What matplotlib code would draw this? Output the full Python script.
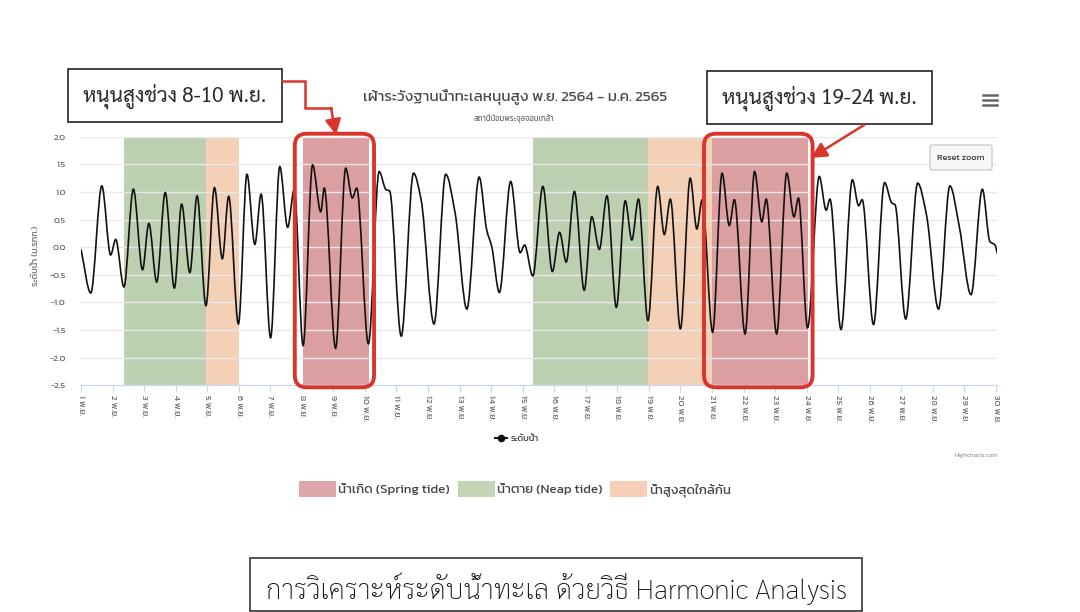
import numpy as np
import matplotlib
matplotlib.use("Agg")
import matplotlib.pyplot as plt
from matplotlib.path import Path
from matplotlib.patches import PathPatch, Rectangle, FancyBboxPatch, FancyArrowPatch, Patch
from matplotlib.lines import Line2D
from matplotlib.transforms import IdentityTransform

# ---- data (day of November, water level in m) ----
tide_day = [
    1.00, 1.31, 1.66, 1.94, 2.10, 2.36, 2.66, 2.95, 3.15, 3.40,
    3.67, 3.96, 4.19, 4.45, 4.68, 4.96, 5.23, 5.48, 5.68, 5.99,
    6.26, 6.51, 6.71, 7.01, 7.30, 7.55, 7.76, 8.04, 8.34, 8.60,
    8.71, 9.07, 9.39, 9.60, 9.74, 10.11, 10.45, 10.67, 10.78, 11.15,
    11.54, 11.78, 12.19, 12.56, 12.86, 13.23, 13.62, 13.86, 14.02, 14.26,
    14.62, 14.92, 15.06, 15.32, 15.64, 15.94, 16.17, 16.38, 16.64, 16.95,
    17.19, 17.43, 17.67, 17.97, 18.25, 18.46, 18.67, 18.97, 19.28, 19.49,
    19.68, 20.00, 20.31, 20.52, 20.69, 21.02, 21.32, 21.55, 21.71, 22.05,
    22.35, 22.58, 22.72, 23.05, 23.37, 23.60, 23.74, 24.03, 24.40, 24.62,
    24.74, 25.09, 25.45, 25.65, 25.76, 26.12, 26.47, 26.70, 26.80, 27.14,
    27.52, 27.80, 28.18, 28.54, 28.84, 29.21, 29.57, 29.81, 29.97, 30.05,
]
tide_level = [
    -0.04, -0.83, 1.11, -0.14, 0.14, -0.72, 1.05, -0.41, 0.43, -0.63,
    0.99, -0.74, 0.78, -0.46, 0.93, -1.06, 1.08, -0.21, 0.92, -1.39,
    1.32, 0.05, 0.96, -1.64, 1.46, 0.36, 1.05, -1.78, 1.49, 0.64,
    1.07, -1.83, 1.43, 0.89, 1.07, -1.75, 1.37, 1.04, 1.02, -1.61,
    1.34, 0.86, -1.39, 1.32, 0.61, -1.12, 1.27, 0.31, 0.01, -0.82,
    1.19, -0.10, 0.04, -0.52, 1.10, -0.44, 0.27, -0.27, 1.01, -0.78,
    0.55, -0.04, 0.93, -1.09, 0.84, 0.13, 0.87, -1.33, 1.10, 0.23,
    0.87, -1.48, 1.25, 0.33, 0.86, -1.54, 1.34, 0.39, 0.86, -1.57,
    1.37, 0.46, 0.87, -1.57, 1.34, 0.55, 0.89, -1.46, 1.28, 0.67,
    0.87, -1.49, 1.22, 0.75, 0.86, -1.40, 1.17, 0.80, 0.77, -1.30,
    1.16, 0.58, -1.12, 1.11, 0.37, -0.86, 1.05, 0.10, 0.04, -0.12,
]

band_start = [2.37, 4.97, 8.03, 15.34, 18.97, 21.00]
band_end = [4.97, 6.00, 10.13, 18.97, 21.00, 24.03]
band_kind = ["neap", "high", "spring", "neap", "high", "spring"]

day_ticks = list(range(1, 31))
day_labels = [f"{d} พ.ย." for d in day_ticks]
level_ticks = [-2.5, -2.0, -1.5, -1.0, -0.5, 0.0, 0.5, 1.0, 1.5, 2.0]

legend_labels = ["น้ำเกิด (Spring tide)", "น้ำตาย (Neap tide)", "น้ำสูงสุดใกล้กัน"]
title = "เฝ้าระวังฐานน้ำทะเลหนุนสูง พ.ย. 2564 - ม.ค. 2565"
subtitle = "สถานีป้อมพระจุลจอมเกล้า"

band_color = {"spring": "#dc9fa1", "neap": "#bdcfb1", "high": "#f4d0b6"}
legend_color = {"spring": "#dea6a8", "neap": "#c4d5b7", "high": "#f6cfb7"}
RED = "#d9352c"

THAI_UI = ["Kanit", "Prompt", "Anuphan", "Noto Sans Thai", "Loma", "DejaVu Sans"]
THAI_DOC = ["Sarabun", "Noto Sans Thai Looped", "Loma", "DejaVu Sans"]
plt.rcParams["font.family"] = THAI_UI
plt.rcParams["axes.unicode_minus"] = False

W, H = 1080, 612
fig = plt.figure(figsize=(W / 100, H / 100), dpi=100)
PX = IdentityTransform()


def P(x, y):
    # image pixel (y down) -> display pixel (y up)
    return (x, H - y)


ax_left, ax_right, ax_top, ax_bottom = 81, 997.5, 136.7, 385.3
ax = fig.add_axes([ax_left / W, 1 - ax_bottom / H,
                   (ax_right - ax_left) / W, (ax_bottom - ax_top) / H])
ax.set_xlim(1, 30.05)
ax.set_ylim(-2.5, 2.0)

# plot bands
for s, e, k in zip(band_start, band_end, band_kind):
    ax.axvspan(s, e, color=band_color[k], lw=0, zorder=0.5)

# smooth tide line: cubic Hermite (monotone tangents) as a bezier path
x = np.array(tide_day)
y = np.array(tide_level)
h = np.diff(x)
d = np.diff(y) / h
m = np.zeros_like(y)
for k in range(1, len(x) - 1):
    if d[k - 1] * d[k] > 0:
        w1 = 2 * h[k] + h[k - 1]
        w2 = h[k] + 2 * h[k - 1]
        m[k] = (w1 + w2) / (w1 / d[k - 1] + w2 / d[k])
m[0] = d[0]
m[-1] = d[-1]
verts = [(x[0], y[0])]
codes = [Path.MOVETO]
for k in range(len(x) - 1):
    verts += [(x[k] + h[k] / 3, y[k] + m[k] * h[k] / 3),
              (x[k + 1] - h[k] / 3, y[k + 1] - m[k + 1] * h[k] / 3),
              (x[k + 1], y[k + 1])]
    codes += [Path.CURVE4] * 3
ax.add_patch(PathPatch(Path(verts, codes), fill=False, edgecolor="#111111",
                       lw=1.2, zorder=3))

# axes styling (highcharts look)
ax.set_axisbelow(False)
ax.grid(axis="y", color="#e9e9e9", lw=1)
for sp in ["left", "right", "top"]:
    ax.spines[sp].set_visible(False)
ax.spines["bottom"].set_color("#ccd6eb")
ax.set_xticks(day_ticks)
ax.set_xticklabels(day_labels)
ax.set_yticks(level_ticks)
ax.set_yticklabels([f"{v:.1f}" for v in level_ticks])
ax.tick_params(axis="x", length=5, color="#ccd6eb", labelsize=6.5,
               labelcolor="#666666", pad=2, labelrotation=-90)
ax.tick_params(axis="y", length=0, labelsize=6.5, labelcolor="#666666", pad=11)
ax.set_ylabel("ระดับน้ำ (ม.รทก.)", fontsize=6.5, color="#666666")
ax.yaxis.set_label_coords(-0.045, 0.52)

# titles
fig.text(515, H - 97, title, transform=PX, ha="center", va="center",
         fontsize=11, color="#4a4a4a")
fig.text(514, H - 119, subtitle, transform=PX, ha="center", va="center",
         fontsize=5.5, color="#666666")
fig.text(998, H - 456, "Highcharts.com", transform=PX, ha="right",
         va="center", fontsize=4.5, color="#999999")

# series legend
fig.legend(handles=[Line2D([], [], color="#111111", marker="o", markersize=4.5, lw=1.4)],
           labels=["ระดับน้ำ"], loc="center", bbox_to_anchor=(517 / W, 1 - 439 / H),
           frameon=False, fontsize=6.5, handlelength=1.3, handletextpad=0.5,
           labelcolor="#333333")

# band legend
fig.legend(handles=[Patch(fc=legend_color[k], ec="none") for k in ["spring", "neap", "high"]],
           labels=legend_labels, ncol=3, loc="center",
           bbox_to_anchor=(515 / W, 1 - 489 / H), frameon=False,
           prop={"size": 9.5}, handlelength=2.8, handleheight=1.45,
           handletextpad=0.15, columnspacing=0.6, labelcolor="#444444")

# red outlines around spring-tide bands
for s, e, k in zip(band_start, band_end, band_kind):
    if k != "spring":
        continue
    x0, y0 = ax.transData.transform((s, -2.5))
    x1, y1 = ax.transData.transform((e, 2.0))
    box = FancyBboxPatch((x0 - 8, y0 - 2), (x1 - x0) + 13, (y1 - y0) + 5,
                         boxstyle="round,pad=0,rounding_size=12", transform=PX,
                         fill=False, ec=RED, lw=2.8, zorder=5)
    fig.add_artist(box)

# callout boxes
for (bx0, by0, bx1, by1), txt in [((68, 69, 282, 122), "หนุนสูงช่วง 8-10 พ.ย."),
                                  ((707, 71, 932, 124), "หนุนสูงช่วง 19-24 พ.ย.")]:
    fig.add_artist(Rectangle(P(bx0, by1), bx1 - bx0, by1 - by0, transform=PX,
                             fc="white", ec="#222222", lw=1.2))
    fig.text((bx0 + bx1) / 2, H - (by0 + by1) / 2 - 1, txt, transform=PX,
             ha="center", va="center", fontsize=15, color="#2a2a2a",
             family=THAI_DOC)

# connector 1 (elbow) and arrow
pts = [P(282, 81), P(305, 81), P(305, 108), P(331, 108)]
fig.add_artist(Line2D([p[0] for p in pts], [p[1] for p in pts], transform=PX,
                      color=RED, lw=1.8, solid_joinstyle="miter"))
for a, b in [((331, 108), (336, 135)), ((864, 125), (811, 158))]:
    fig.add_artist(FancyArrowPatch(P(*a), P(*b), transform=PX,
                                   arrowstyle="-|>,head_length=0.47,head_width=0.24",
                                   mutation_scale=20, color=RED, lw=1.8,
                                   shrinkA=0, shrinkB=0))

# reset zoom button and menu icon
fig.add_artist(FancyBboxPatch(P(930, 170), 62, 25, boxstyle="round,pad=0,rounding_size=2",
                              transform=PX, fc="#f7f7f7", ec="#cccccc", lw=1))
fig.text(961, H - 157.5, "Reset zoom", transform=PX, ha="center", va="center",
         fontsize=6.5, color="#333333")
for yy in (95, 100, 105):
    fig.add_artist(Line2D([983, 997], [H - yy, H - yy], transform=PX,
                          color="#666666", lw=1.8))

# footer box
fig.add_artist(Rectangle(P(250, 611), 612, 53, transform=PX, fc="white",
                         ec="#333333", lw=1.2))
fig.text(556, H - 589, "การวิเคราะห์ระดับน้ำทะเล ด้วยวิธี Harmonic Analysis",
         transform=PX, ha="center", va="center", fontsize=20, color="#111111",
         family=THAI_DOC, fontweight="light")

fig.savefig("out.png", dpi=100)
